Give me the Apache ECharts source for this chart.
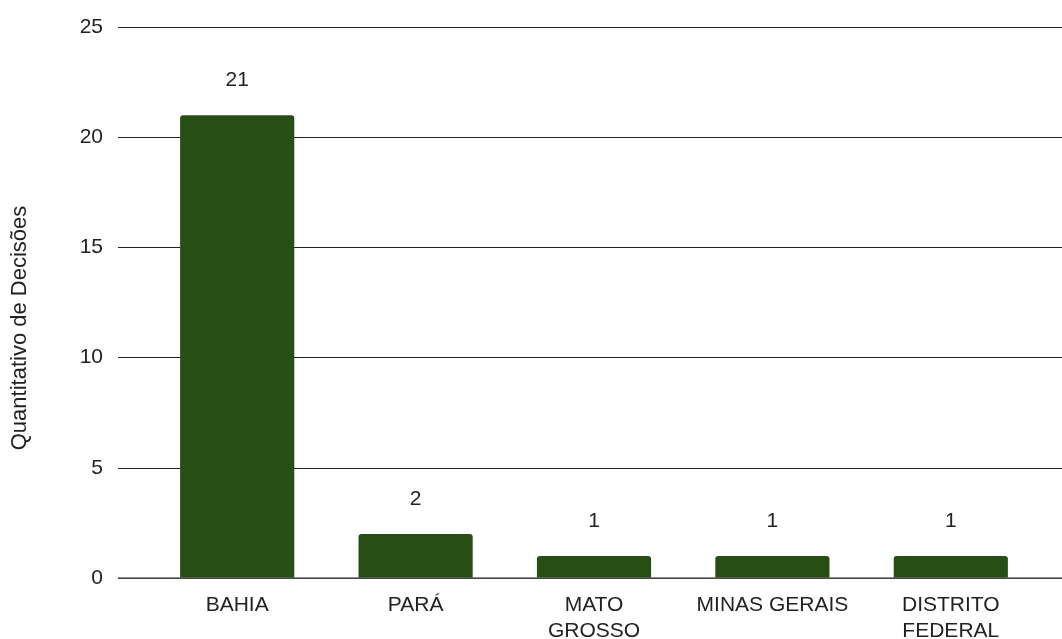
<!DOCTYPE html>
<html>
<head>
<meta charset="utf-8">
<script src="https://cdn.jsdelivr.net/npm/echarts@6/dist/echarts.min.js"></script>
<style>
html,body{margin:0;padding:0;background:#fff;}
#chart{width:1062px;height:639px;}
</style>
</head>
<body>
<div id="chart"></div>
<script>
const categories = ['BAHIA', 'PARÁ', 'MATO\nGROSSO', 'MINAS GERAIS', 'DISTRITO\nFEDERAL'];
const values = [21, 2, 1, 1, 1];
const yTitle = 'Quantitativo de Decisões';
const yMin = 0, yMax = 25, yStep = 5;

const font = 'Liberation Sans, Arial, sans-serif';
const chart = echarts.init(document.getElementById('chart'), null, {renderer: 'canvas'});
chart.setOption({
  animation: false,
  backgroundColor: '#ffffff',
  grid: [
    {left: 118, right: 0, top: 27, bottom: 61, outerBoundsMode: 'none', containLabel: false},
    {left: 148, right: 22, top: 27, bottom: 61, outerBoundsMode: 'none', containLabel: false}
  ],
  xAxis: [
    {type: 'value', gridIndex: 0, show: false, min: 0, max: 1},
    {
      type: 'category', gridIndex: 1, data: categories,
      axisLine: {show: false},
      axisTick: {show: false},
      axisLabel: {color: '#222', fontFamily: font, fontSize: 21, margin: 14, lineHeight: 26, interval: 0}
    }
  ],
  yAxis: [
    {
      type: 'value', gridIndex: 0, min: yMin, max: yMax, interval: yStep,
      axisLine: {show: false}, axisTick: {show: false},
      axisLabel: {color: '#222', fontFamily: font, fontSize: 21, margin: 15},
      splitLine: {lineStyle: {color: '#222', width: 1.2}}
    },
    {type: 'value', gridIndex: 1, min: yMin, max: yMax, interval: yStep, show: false, splitLine: {show: false}}
  ],
  series: [
    {
      type: 'line', xAxisIndex: 0, yAxisIndex: 0, data: [[0, 0], [1, 0]],
      symbol: 'none', silent: true, z: 5,
      lineStyle: {color: '#666', width: 1.5}
    },
    {
      type: 'bar', xAxisIndex: 1, yAxisIndex: 1, data: values,
      barWidth: '64%',
      itemStyle: {color: '#274e13', borderRadius: [3, 3, 0, 0]},
      label: {show: true, position: 'top', distance: 24, color: '#222', fontFamily: font, fontSize: 21},
      z: 3
    }
  ],
  graphic: [
    {
      type: 'text', x: 20, y: 328, rotation: Math.PI / 2,
      style: {text: yTitle, fill: '#222', font: '22px ' + font, textAlign: 'center', textVerticalAlign: 'middle'}
    }
  ]
});
</script>
</body>
</html>
